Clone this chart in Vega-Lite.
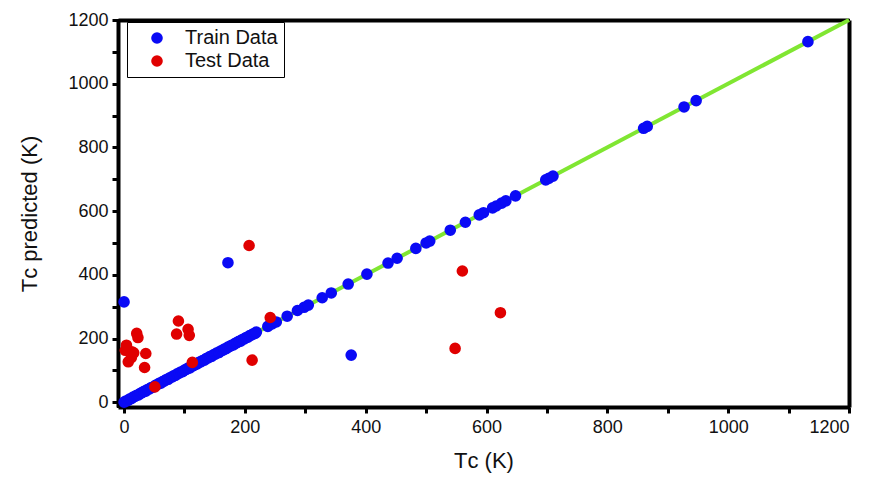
{
  "$schema": "https://vega.github.io/schema/vega-lite/v6.json",
  "width": 731,
  "height": 387,
  "autosize": "none",
  "padding": {"left": 118, "top": 20, "right": 25, "bottom": 76},
  "background": "white",
  "config": {
    "view": {"stroke": "black", "strokeWidth": 2},
    "axis": {
      "domainColor": "black", "domainWidth": 4, "tickColor": "black", "tickWidth": 3, "tickSize": 6,
      "labelFont": "Liberation Sans", "labelFontSize": 18, "labelColor": "#111111",
      "titleFont": "Liberation Sans", "titleFontSize": 22, "titleFontWeight": "normal", "titleColor": "#111111",
      "grid": false
    }
  },
  "resolve": {"axis": {"x": "independent", "y": "independent"}},
  "datasets": {
    "pts": [
      {"tc": 0, "pred": 315, "set": "Train Data"},
      {"tc": 172, "pred": 438, "set": "Train Data"},
      {"tc": 376, "pred": 148, "set": "Train Data"},
      {"tc": 0, "pred": 0, "set": "Train Data"},
      {"tc": 3, "pred": 4, "set": "Train Data"},
      {"tc": 6, "pred": 5, "set": "Train Data"},
      {"tc": 9, "pred": 10, "set": "Train Data"},
      {"tc": 12, "pred": 11, "set": "Train Data"},
      {"tc": 15, "pred": 16, "set": "Train Data"},
      {"tc": 18, "pred": 18, "set": "Train Data"},
      {"tc": 21, "pred": 22, "set": "Train Data"},
      {"tc": 24, "pred": 23, "set": "Train Data"},
      {"tc": 27, "pred": 28, "set": "Train Data"},
      {"tc": 30, "pred": 30, "set": "Train Data"},
      {"tc": 33, "pred": 34, "set": "Train Data"},
      {"tc": 36, "pred": 35, "set": "Train Data"},
      {"tc": 39, "pred": 40, "set": "Train Data"},
      {"tc": 42, "pred": 42, "set": "Train Data"},
      {"tc": 45, "pred": 46, "set": "Train Data"},
      {"tc": 48, "pred": 47, "set": "Train Data"},
      {"tc": 52, "pred": 53, "set": "Train Data"},
      {"tc": 55, "pred": 55, "set": "Train Data"},
      {"tc": 58, "pred": 59, "set": "Train Data"},
      {"tc": 61, "pred": 60, "set": "Train Data"},
      {"tc": 64, "pred": 65, "set": "Train Data"},
      {"tc": 67, "pred": 67, "set": "Train Data"},
      {"tc": 70, "pred": 71, "set": "Train Data"},
      {"tc": 73, "pred": 72, "set": "Train Data"},
      {"tc": 76, "pred": 77, "set": "Train Data"},
      {"tc": 79, "pred": 79, "set": "Train Data"},
      {"tc": 82, "pred": 83, "set": "Train Data"},
      {"tc": 85, "pred": 84, "set": "Train Data"},
      {"tc": 88, "pred": 89, "set": "Train Data"},
      {"tc": 91, "pred": 91, "set": "Train Data"},
      {"tc": 94, "pred": 95, "set": "Train Data"},
      {"tc": 97, "pred": 96, "set": "Train Data"},
      {"tc": 100, "pred": 101, "set": "Train Data"},
      {"tc": 103, "pred": 103, "set": "Train Data"},
      {"tc": 106, "pred": 107, "set": "Train Data"},
      {"tc": 109, "pred": 108, "set": "Train Data"},
      {"tc": 112, "pred": 113, "set": "Train Data"},
      {"tc": 115, "pred": 115, "set": "Train Data"},
      {"tc": 118, "pred": 119, "set": "Train Data"},
      {"tc": 121, "pred": 120, "set": "Train Data"},
      {"tc": 124, "pred": 125, "set": "Train Data"},
      {"tc": 127, "pred": 127, "set": "Train Data"},
      {"tc": 130, "pred": 131, "set": "Train Data"},
      {"tc": 133, "pred": 132, "set": "Train Data"},
      {"tc": 136, "pred": 137, "set": "Train Data"},
      {"tc": 139, "pred": 139, "set": "Train Data"},
      {"tc": 142, "pred": 143, "set": "Train Data"},
      {"tc": 145, "pred": 144, "set": "Train Data"},
      {"tc": 148, "pred": 149, "set": "Train Data"},
      {"tc": 151, "pred": 151, "set": "Train Data"},
      {"tc": 154, "pred": 155, "set": "Train Data"},
      {"tc": 157, "pred": 156, "set": "Train Data"},
      {"tc": 160, "pred": 161, "set": "Train Data"},
      {"tc": 163, "pred": 163, "set": "Train Data"},
      {"tc": 166, "pred": 167, "set": "Train Data"},
      {"tc": 169, "pred": 168, "set": "Train Data"},
      {"tc": 172, "pred": 173, "set": "Train Data"},
      {"tc": 175, "pred": 175, "set": "Train Data"},
      {"tc": 178, "pred": 179, "set": "Train Data"},
      {"tc": 181, "pred": 180, "set": "Train Data"},
      {"tc": 184, "pred": 185, "set": "Train Data"},
      {"tc": 187, "pred": 187, "set": "Train Data"},
      {"tc": 190, "pred": 191, "set": "Train Data"},
      {"tc": 193, "pred": 192, "set": "Train Data"},
      {"tc": 196, "pred": 197, "set": "Train Data"},
      {"tc": 199, "pred": 199, "set": "Train Data"},
      {"tc": 202, "pred": 203, "set": "Train Data"},
      {"tc": 205, "pred": 204, "set": "Train Data"},
      {"tc": 208, "pred": 209, "set": "Train Data"},
      {"tc": 211, "pred": 211, "set": "Train Data"},
      {"tc": 214, "pred": 215, "set": "Train Data"},
      {"tc": 217, "pred": 216, "set": "Train Data"},
      {"tc": 219, "pred": 220, "set": "Train Data"},
      {"tc": 238, "pred": 238, "set": "Train Data"},
      {"tc": 245, "pred": 246, "set": "Train Data"},
      {"tc": 252, "pred": 252, "set": "Train Data"},
      {"tc": 270, "pred": 270, "set": "Train Data"},
      {"tc": 287, "pred": 288, "set": "Train Data"},
      {"tc": 298, "pred": 298, "set": "Train Data"},
      {"tc": 305, "pred": 305, "set": "Train Data"},
      {"tc": 328, "pred": 328, "set": "Train Data"},
      {"tc": 343, "pred": 343, "set": "Train Data"},
      {"tc": 371, "pred": 371, "set": "Train Data"},
      {"tc": 402, "pred": 402, "set": "Train Data"},
      {"tc": 437, "pred": 437, "set": "Train Data"},
      {"tc": 452, "pred": 452, "set": "Train Data"},
      {"tc": 483, "pred": 483, "set": "Train Data"},
      {"tc": 500, "pred": 500, "set": "Train Data"},
      {"tc": 506, "pred": 506, "set": "Train Data"},
      {"tc": 540, "pred": 540, "set": "Train Data"},
      {"tc": 565, "pred": 565, "set": "Train Data"},
      {"tc": 588, "pred": 588, "set": "Train Data"},
      {"tc": 595, "pred": 595, "set": "Train Data"},
      {"tc": 610, "pred": 610, "set": "Train Data"},
      {"tc": 616, "pred": 616, "set": "Train Data"},
      {"tc": 625, "pred": 625, "set": "Train Data"},
      {"tc": 632, "pred": 632, "set": "Train Data"},
      {"tc": 648, "pred": 648, "set": "Train Data"},
      {"tc": 698, "pred": 698, "set": "Train Data"},
      {"tc": 703, "pred": 703, "set": "Train Data"},
      {"tc": 710, "pred": 710, "set": "Train Data"},
      {"tc": 860, "pred": 860, "set": "Train Data"},
      {"tc": 866, "pred": 866, "set": "Train Data"},
      {"tc": 927, "pred": 927, "set": "Train Data"},
      {"tc": 947, "pred": 947, "set": "Train Data"},
      {"tc": 1132, "pred": 1132, "set": "Train Data"},
      {"tc": 207, "pred": 492, "set": "Test Data"},
      {"tc": 242, "pred": 266, "set": "Test Data"},
      {"tc": 212, "pred": 132, "set": "Test Data"},
      {"tc": 90, "pred": 255, "set": "Test Data"},
      {"tc": 87, "pred": 214, "set": "Test Data"},
      {"tc": 106, "pred": 229, "set": "Test Data"},
      {"tc": 108, "pred": 210, "set": "Test Data"},
      {"tc": 113, "pred": 125, "set": "Test Data"},
      {"tc": 51, "pred": 48, "set": "Test Data"},
      {"tc": 21, "pred": 216, "set": "Test Data"},
      {"tc": 23, "pred": 203, "set": "Test Data"},
      {"tc": 4, "pred": 179, "set": "Test Data"},
      {"tc": 2, "pred": 163, "set": "Test Data"},
      {"tc": 13, "pred": 158, "set": "Test Data"},
      {"tc": 16, "pred": 155, "set": "Test Data"},
      {"tc": 7, "pred": 127, "set": "Test Data"},
      {"tc": 12, "pred": 140, "set": "Test Data"},
      {"tc": 36, "pred": 153, "set": "Test Data"},
      {"tc": 34, "pred": 109, "set": "Test Data"},
      {"tc": 560, "pred": 412, "set": "Test Data"},
      {"tc": 623, "pred": 281, "set": "Test Data"},
      {"tc": 548, "pred": 169, "set": "Test Data"}
    ],
    "diag": [
      {"tc": 0, "pred": 0},
      {"tc": 1200, "pred": 1200}
    ]
  },
  "layer": [
    {
      "data": {"name": "diag"},
      "mark": {"type": "line", "color": "#80e632", "strokeWidth": 4},
      "encoding": {
        "x": {"field": "tc", "type": "quantitative",
          "axis": {"orient": "top", "labels": false, "ticks": false, "title": null, "domainWidth": 4}},
        "y": {"field": "pred", "type": "quantitative",
          "axis": {"orient": "right", "labels": false, "ticks": false, "title": null, "domainWidth": 4}}
      }
    },
    {
      "data": {"name": "pts"},
      "mark": {"type": "point", "shape": "circle", "filled": true, "opacity": 1, "size": 135},
      "encoding": {
        "x": {
          "field": "tc", "type": "quantitative",
          "scale": {"domain": [-10, 1200], "nice": false, "zero": false},
          "axis": {
            "orient": "bottom",
            "values": [0, 100, 200, 300, 400, 500, 600, 700, 800, 900, 1000, 1100, 1200],
            "labelExpr": "datum.value % 200 == 0 ? datum.label : ''",
            "format": "d",
            "title": "Tᴄ (K)", "titlePadding": 14, "labelPadding": 5
          }
        },
        "y": {
          "field": "pred", "type": "quantitative",
          "scale": {"domain": [-15, 1200], "nice": false, "zero": false},
          "axis": {
            "orient": "left",
            "values": [0, 100, 200, 300, 400, 500, 600, 700, 800, 900, 1000, 1100, 1200],
            "labelExpr": "datum.value % 200 == 0 ? datum.label : ''",
            "format": "d",
            "title": "Tᴄ predicted (K)", "titlePadding": 26, "labelPadding": 4
          }
        },
        "color": {
          "field": "set", "type": "nominal",
          "scale": {"domain": ["Train Data", "Test Data"], "range": ["#0a0af5", "#e00000"]},
          "legend": {
            "title": null, "orient": "none", "legendX": 9, "legendY": 2,
            "fillColor": "white", "strokeColor": "black",
            "padding": 6, "symbolOffset": 14, "labelOffset": 18,
            "symbolSize": 135, "symbolType": "circle", "labelFont": "Liberation Sans",
            "labelFontSize": 20, "labelColor": "#111111", "rowPadding": 3
          }
        },
        "order": {"field": "set", "sort": "descending"}
      }
    }
  ]
}
